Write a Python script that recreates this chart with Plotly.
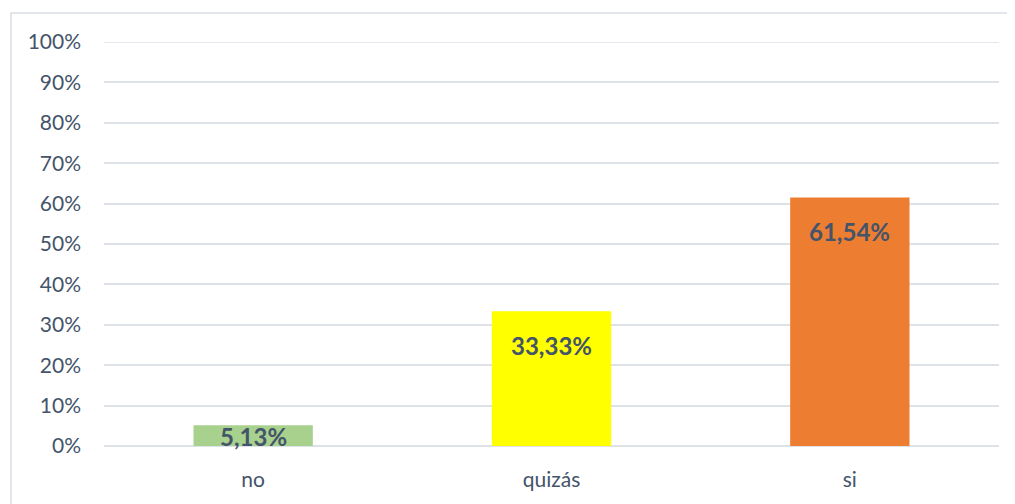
import plotly.graph_objects as go

categories = ["no", "quizás", "si"]
values = [5.13, 33.33, 61.54]
labels = ["5,13%", "33,33%", "61,54%"]
colors = ["#A9D18E", "#FFFF00", "#ED7D31"]
yticks = list(range(0, 101, 10))

fig = go.Figure()
fig.add_trace(go.Bar(x=categories, y=values, marker=dict(color=colors, line=dict(width=0)),
                     hoverinfo="skip"))

# data labels: inside end, clamped to base
for c, v, t in zip(categories, values, labels):
    fig.add_annotation(x=c, y=max(v - 8.4, 2.4), text="<b>%s</b>" % t, showarrow=False,
                       xref="x", yref="y", yanchor="middle",
                       font=dict(family="Lato", size=24, color="#44546A"))

fig.add_shape(type="rect", xref="paper", yref="paper", x0=-0.1039, x1=1.0156, y0=-0.25, y1=1.0718,
              line=dict(color="#D9DDE4", width=1.5), fillcolor="rgba(0,0,0,0)", layer="below")
# top gridline at 100%
fig.add_shape(type="line", xref="paper", yref="y", x0=0, x1=1, y0=yticks[-1], y1=yticks[-1],
              line=dict(color="#DDE1E8", width=1.5), layer="below")

fig.update_layout(
    width=1015, height=504,
    margin=dict(l=96, r=24, t=34, b=66, autoexpand=False),
    paper_bgcolor="white", plot_bgcolor="white",
    bargap=0.6, showlegend=False,
    font=dict(family="Lato", size=21, color="#44546A"),
    xaxis=dict(showgrid=False, showline=False, ticks="", ticklabelstandoff=19,
               tickfont=dict(family="Lato", size=21, color="#44546A")),
    yaxis=dict(range=[0, 100], tickvals=yticks, ticktext=["%d%%" % v for v in yticks],
               showgrid=True, gridcolor="#DDE1E8", gridwidth=1.5,
               zeroline=True, zerolinecolor="#DDE1E8", zerolinewidth=1.5,
               showline=False, ticks="", ticklabelstandoff=22,
               tickfont=dict(family="Lato", size=21, color="#44546A")),
)

fig.write_html("out.html")
